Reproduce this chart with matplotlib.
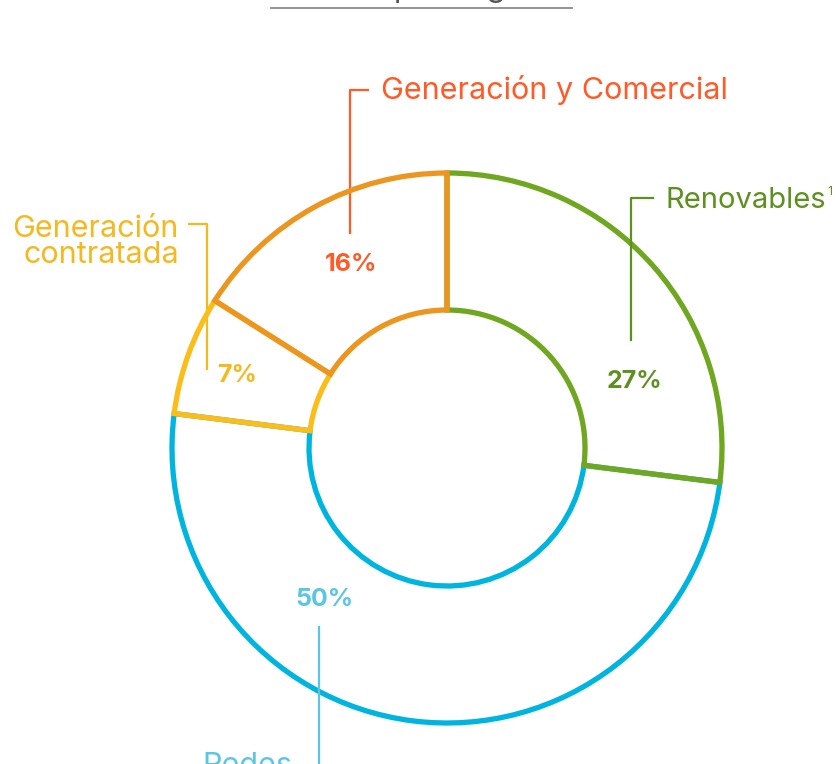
import matplotlib
matplotlib.use("Agg")
import matplotlib.pyplot as plt

# Business segments, clockwise from 12 o'clock
segments = ["Renovables", "Redes", "Generación contratada", "Generación y Comercial"]
shares = [27, 50, 7, 16]
pct_labels = ["27%", "50%", "7%", "16%"]

arc_colors = ["#6fa720", "#00b4e0", "#fbbd19", "#ec961f"]
text_colors = ["#5e901f", "#5bc6e4", "#f4b820", "#ff5a27"]

W, H = 837, 764
fig = plt.figure(figsize=(W / 100, H / 100), dpi=100)
ax = fig.add_axes([0, 0, 1, 1])

cx, cy = 447, H - 448
R_out, R_in = 275, 138

wedges, _ = ax.pie(shares, startangle=90, counterclock=False, center=(cx, cy),
                   radius=R_out, wedgeprops=dict(width=R_out - R_in, fill=False, linewidth=3.8))
# draw order so that shared boundaries take the right colour
z_order = [2, 1, 3, 4]
for w, c, z in zip(wedges, arc_colors, z_order):
    w.set_edgecolor(c)
    w.set_zorder(z)
    w.set_joinstyle("miter")

ax.set_xlim(0, W)
ax.set_ylim(0, H)
ax.set_aspect("equal")
ax.axis("off")

font = "Inter"
lab_size = 22
pct_size = 18

def y(v):
    return H - v

# title (mostly cropped at the top edge) with its underline
ax.text(421, y(-3), "EBITDA por negocio", ha="center", va="baseline",
        fontsize=22, color="#555555", family=font)
ax.plot([271, 572], [y(8), y(8)], color="#8a8a8a", lw=1.3)

# Generación y Comercial
c = text_colors[3]
ax.plot([368, 350, 350], [y(90), y(90), y(233)], color=c, lw=1.6)
ax.text(381, y(90), "Generación y Comercial", ha="left", va="center",
        fontsize=lab_size, color=c, family=font)
ax.text(351, y(265), pct_labels[3], ha="center", va="center",
        fontsize=pct_size, color=c, family=font, weight="bold")

# Renovables, with a footnote mark placed right after the word
c = text_colors[0]
ax.plot([653, 631, 631], [y(198), y(198), y(340)], color=c, lw=1.6)
ren = ax.text(666, y(200), "Renovables", ha="left", va="center",
              fontsize=21, color=c, family=font)
renderer = fig.canvas.get_renderer()
bb = ren.get_window_extent(renderer=renderer)
x_end = ax.transData.inverted().transform((bb.x1, bb.y1))[0]
ax.text(x_end + 1, y(192), "1", ha="left", va="center",
        fontsize=9, color=c, family=font)
ax.text(634, y(382), pct_labels[0], ha="center", va="center",
        fontsize=pct_size, color=c, family=font, weight="bold")

# Generación contratada
c = text_colors[2]
ax.plot([189, 207, 207], [y(224), y(224), y(369)], color=c, lw=1.6)
ax.text(179, y(242), "Generación\ncontratada", ha="right", va="center",
        fontsize=lab_size, color=c, family=font, linespacing=0.9)
ax.text(237, y(376), pct_labels[2], ha="center", va="center",
        fontsize=pct_size, color=c, family=font, weight="bold")

# Redes
c = text_colors[1]
ax.plot([319, 319], [y(627), y(770)], color=c, lw=1.6)
ax.text(324, y(599), pct_labels[1], ha="center", va="center",
        fontsize=pct_size, color=c, family=font, weight="bold")
ax.text(247, y(766), "Redes", ha="center", va="center",
        fontsize=lab_size, color=c, family=font)

fig.savefig("out.png", dpi=100)
